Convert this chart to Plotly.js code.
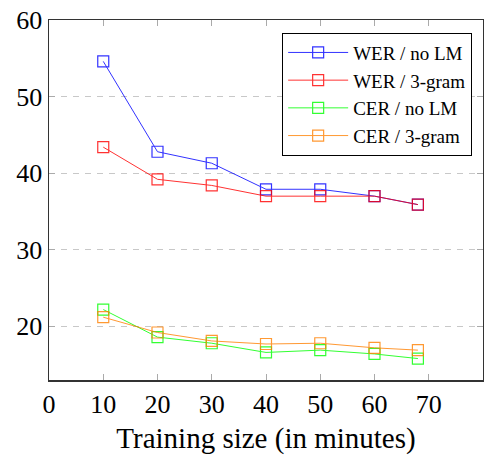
<!DOCTYPE html>
<html><head><meta charset="utf-8">
<script src="https://cdn.plot.ly/plotly-3.0.1.min.js"></script>
<style>html,body{margin:0;padding:0;background:#fff}#plot{width:484px;height:455px}</style>
</head><body><div id="plot"></div>
<script>
const trainingSize = [10, 20, 30, 40, 50, 60, 68];
const werNoLM   = [54.6, 42.8, 41.3, 37.9, 37.9, 37.0, 35.9];
const wer3gram  = [43.4, 39.2, 38.4, 37.0, 37.0, 37.0, 35.9];
const cerNoLM   = [22.2, 18.6, 17.8, 16.6, 16.9, 16.4, 15.8];
const cer3gram  = [21.2, 19.2, 18.1, 17.7, 17.8, 17.2, 16.9];
const seriesNames = ["WER / no LM", "WER / 3-gram", "CER / no LM", "CER / 3-gram"];
const seriesColors = ["#0000ff", "#ff0000", "#00ff00", "#ff8000"];
const xTicks = [0, 10, 20, 30, 40, 50, 60, 70];
const yTicks = [20, 30, 40, 50, 60];

const ys = [werNoLM, wer3gram, cerNoLM, cer3gram];
const traces = ys.map((y, i) => ({
  x: trainingSize, y: y, name: seriesNames[i], type: 'scatter', mode: 'lines+markers',
  line: {color: seriesColors[i], width: 1},
  marker: {symbol: 'square-open', size: 11, color: seriesColors[i], line: {width: 1.2, color: seriesColors[i]}},
  opacity: 0.8
}));

const font = {family: '"Liberation Serif", "DejaVu Serif", serif', color: '#000'};
const layout = {
  width: 484, height: 455,
  margin: {l: 49, r: 1, t: 20, b: 75},
  paper_bgcolor: '#fff', plot_bgcolor: '#fff',
  font: Object.assign({size: 26}, font),
  showlegend: true,
  legend: {x: 0.975, y: 0.965, xanchor: 'right', yanchor: 'top', bordercolor: '#000', borderwidth: 1,
    bgcolor: '#fff', font: Object.assign({size: 19}, font), tracegroupgap: 0, itemwidth: 60},
  xaxis: {range: [0, 80], tickvals: xTicks, ticks: 'inside', ticklen: 6, tickcolor: '#aaa',
    showgrid: false, zeroline: false, showline: true, linecolor: '#333', linewidth: 1.5, mirror: 'ticks',
    tickfont: Object.assign({size: 26}, font),
    title: {text: 'Training size (in minutes)', font: Object.assign({size: 29}, font), standoff: 10}},
  yaxis: {range: [13, 60], tickvals: yTicks, ticks: 'inside', ticklen: 6, tickcolor: '#aaa',
    showgrid: true, gridcolor: '#c8c8c8', griddash: '6px,6px', gridwidth: 1.2, zeroline: false,
    showline: true, linecolor: '#333', linewidth: 1.5, mirror: 'ticks',
    tickfont: Object.assign({size: 26}, font)}
};
Plotly.newPlot('plot', traces, layout, {displayModeBar: false, staticPlot: true});
</script></body></html>
